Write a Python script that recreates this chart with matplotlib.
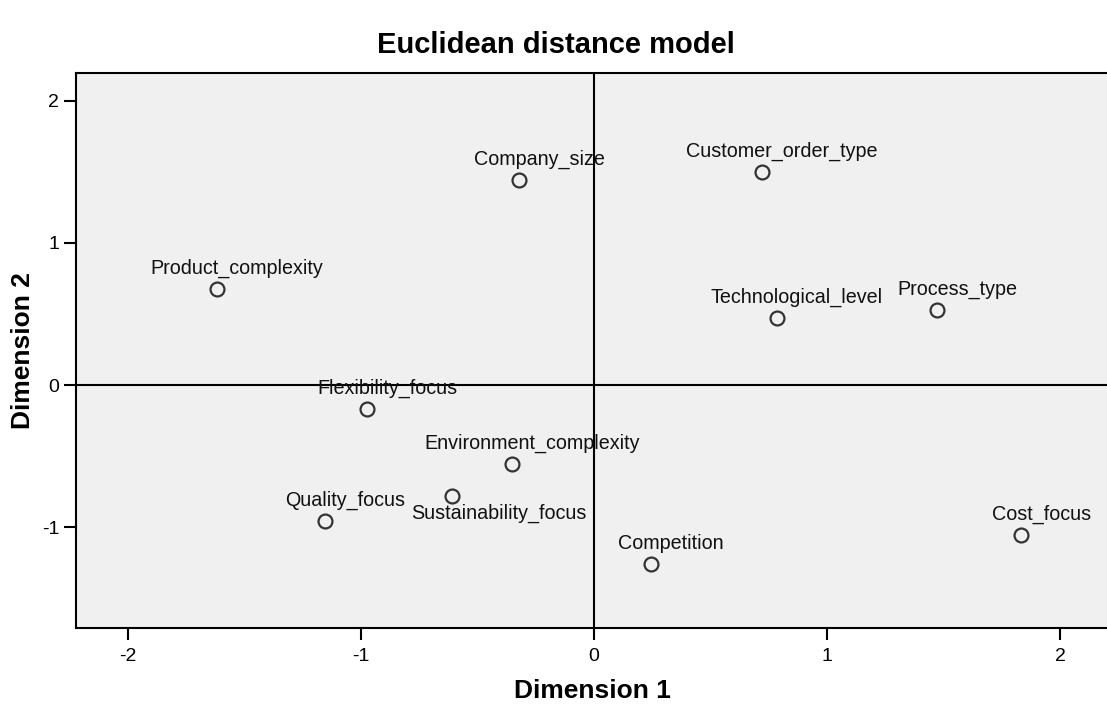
import matplotlib
matplotlib.use("Agg")
import matplotlib.pyplot as plt

plt.rcParams['font.family'] = ['Liberation Sans', 'DejaVu Sans']

names = ["Company_size", "Customer_order_type", "Product_complexity",
         "Technological_level", "Process_type", "Flexibility_focus",
         "Environment_complexity", "Sustainability_focus", "Quality_focus",
         "Competition", "Cost_focus"]
dim1 = [-0.322, 0.721, -1.618, 0.785, 1.472, -0.974, -0.352, -0.609, -1.155, 0.243, 1.833]
dim2 = [1.444, 1.500, 0.676, 0.472, 0.528, -0.169, -0.556, -0.782, -0.958, -1.261, -1.056]
xticks = [-2, -1, 0, 1, 2]
yticks = [-1, 0, 1, 2]

W, H = 1107, 704
fig = plt.figure(figsize=(W / 100, H / 100), dpi=100)
L, R, T, B = 76, 1108, 73, 628
ax = fig.add_axes([L / W, 1 - B / H, (R - L) / W, (B - T) / H])
ax.set_facecolor('#f0f0f0')

ax.axhline(0, color='black', lw=1.5, zorder=1)
ax.axvline(0, color='black', lw=1.5, zorder=1)

ax.plot(dim1, dim2, linestyle='none', marker='o', markersize=10,
        markerfacecolor='none', markeredgecolor='#333333', markeredgewidth=1.6, zorder=3)

for n, x, y in zip(names, dim1, dim2):
    if n == "Sustainability_focus":
        off = (47, -17)
    else:
        off = (20, 21)
    ax.annotate(n, (x, y), xytext=off, textcoords='offset pixels',
                ha='center', va='center', fontsize=14.2, color='#111111', zorder=4)

ax.set_xlim(-2.223, 2.206)
ax.set_ylim(-1.711, 2.197)
ax.set_xticks(xticks)
ax.set_yticks(yticks)
ax.set_xticklabels([str(v) for v in xticks])
ax.set_yticklabels([str(v) for v in yticks])
ax.tick_params(direction='out', length=8.5, width=1.5, labelsize=14, colors='black')
ax.tick_params(axis='x', pad=6)
ax.tick_params(axis='y', pad=3.5)

for s in ['left', 'bottom', 'top']:
    ax.spines[s].set_linewidth(1.5)
    ax.spines[s].set_color('black')
ax.spines['right'].set_visible(False)

ax.set_xlabel("Dimension 1", fontsize=19, fontweight='bold', labelpad=10)
ax.set_ylabel("Dimension 2", fontsize=19, fontweight='bold', va='center')
ax.yaxis.set_label_coords((23 - L) / (R - L), 0.5)
fig.text(556 / W, 1 - 45 / H, "Euclidean distance model", ha='center', va='center',
         fontsize=21, fontweight='bold')

fig.savefig("out.png", dpi=100)
